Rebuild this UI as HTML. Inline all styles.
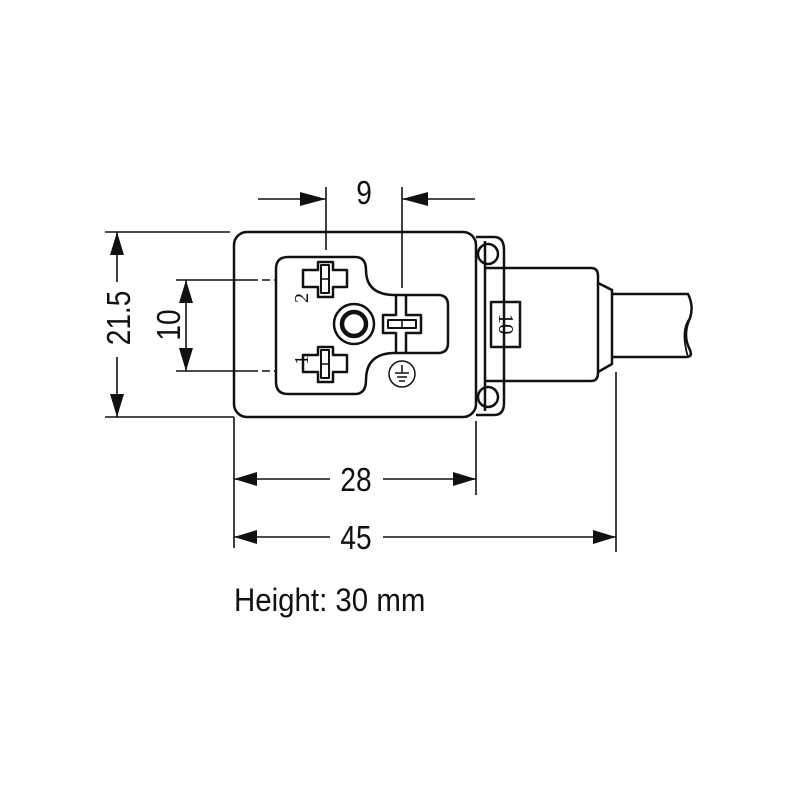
<!DOCTYPE html>
<html><head><style>body{margin:0;background:#fff}svg{display:block}</style></head><body>
<svg width="800" height="800" viewBox="0 0 800 800" xmlns="http://www.w3.org/2000/svg">
<g fill="none" stroke="#111" stroke-width="2.5" stroke-linejoin="round">
<rect x="234" y="232" width="242" height="185" rx="13"/>
<path d="M288 257 H355 Q366 257 366 270 Q366 295 395 295 H438 Q448 295 448 305 V343 Q448 353 438 353 H395 Q366 353 366 380 Q366 394 355 394 H288 Q276 394 276 382 V269 Q276 257 288 257 Z"/>
<g>
<path d="M318 262 H333 V270 H347 V287 H333 V297 H318 V287 H303 V270 H318 Z"/>
<rect x="321" y="265" width="8" height="28" stroke-width="2"/>
<line x1="321" y1="279" x2="329" y2="279" stroke-width="1.5"/>
</g>
<g transform="translate(0,85)">
<path d="M318 262 H333 V270 H347 V287 H333 V297 H318 V287 H303 V270 H318 Z"/>
<rect x="321" y="265" width="8" height="28" stroke-width="2"/>
<line x1="321" y1="279" x2="329" y2="279" stroke-width="1.5"/>
</g>
<circle cx="354" cy="324" r="20"/>
<circle cx="354" cy="324" r="12" stroke-width="4.5"/>
<path d="M396 295 V315 H383 V333 H396 V353 M406 295 V315 H421 V333 H406 V353"/>
<rect x="388" y="320" width="28" height="8" stroke-width="2"/>
<line x1="402" y1="320" x2="402" y2="328" stroke-width="1.5"/>
<circle cx="402" cy="374" r="13" stroke-width="1.5"/>
<path d="M402 365 V373 M395 373 H409 M397 377 H407 M399 381 H405" stroke-width="1.5"/>
<path d="M476 237 H494 Q504 237 504 250 V403 Q504 415 494 415 H476"/>
<line x1="485" y1="241" x2="485" y2="411"/>
<circle cx="488" cy="254" r="10"/>
<circle cx="488" cy="397" r="10"/>
<path d="M485 268 H591 Q598 268 598 276 V373 Q598 381 591 381 H485"/>
<path d="M598 283 L612 290 V364 L598 372"/>
<path d="M612 294 H688 Q694 306 690 318 Q682 335 690 350 Q693 357 686 357 H612"/>
<path d="M690 318 Q680 330 688 357" stroke-width="1.8"/>
<rect x="491" y="302" width="29" height="45"/>
</g>
<text transform="translate(499,324) rotate(90)" font-family="Liberation Serif, serif" font-size="21" text-anchor="middle" fill="#111">10</text>
<text transform="translate(308,303) rotate(-90)" font-family="Liberation Serif, serif" font-size="20" fill="#111">2</text>
<text transform="translate(308,365) rotate(-90)" font-family="Liberation Serif, serif" font-size="20" fill="#111">1</text>
<g stroke="#111" stroke-width="1.6" fill="none">
<line x1="326" y1="187" x2="326" y2="250"/>
<line x1="402" y1="187" x2="402" y2="288"/>
<line x1="258" y1="199" x2="326" y2="199"/>
<line x1="402" y1="199" x2="475" y2="199"/>
<line x1="105" y1="232" x2="230" y2="232"/>
<line x1="105" y1="417" x2="234" y2="417"/>
<line x1="117" y1="232" x2="117" y2="282"/>
<line x1="117" y1="357" x2="117" y2="417"/>
<line x1="176" y1="280" x2="250" y2="280"/>
<line x1="176" y1="371" x2="250" y2="371"/>
<line x1="250" y1="280" x2="276" y2="280" stroke-dasharray="8 4"/>
<line x1="250" y1="371" x2="276" y2="371" stroke-dasharray="8 4"/>
<line x1="186" y1="280" x2="186" y2="371"/>
<line x1="234" y1="417" x2="234" y2="548"/>
<line x1="476" y1="421" x2="476" y2="495"/>
<line x1="616" y1="372" x2="616" y2="552"/>
<line x1="234" y1="479" x2="330" y2="479"/>
<line x1="383" y1="479" x2="476" y2="479"/>
<line x1="234" y1="537" x2="330" y2="537"/>
<line x1="383" y1="537" x2="616" y2="537"/>
</g>
<g fill="#111">
<polygon points="326,199 300,192 300,206"/>
<polygon points="402,199 428,192 428,206"/>
<polygon points="117,232 110,255 124,255"/>
<polygon points="117,417 110,394 124,394"/>
<polygon points="186,280 179,303 193,303"/>
<polygon points="186,371 179,348 193,348"/>
<polygon points="234,479 257,472 257,486"/>
<polygon points="476,479 453,472 453,486"/>
<polygon points="234,537 257,530 257,544"/>
<polygon points="616,537 593,530 593,544"/>
</g>
<g font-family="Liberation Sans, sans-serif" font-size="33" fill="#111">
<text transform="translate(364,204) scale(0.85,1)" text-anchor="middle">9</text>
<text transform="translate(130,318) rotate(-90) scale(0.85,1)" text-anchor="middle">21.5</text>
<text transform="translate(180,325) rotate(-90) scale(0.85,1)" text-anchor="middle">10</text>
<text transform="translate(356,491) scale(0.85,1)" text-anchor="middle">28</text>
<text transform="translate(356,549) scale(0.85,1)" text-anchor="middle">45</text>
<text transform="translate(234,611) scale(0.92,1)" font-size="32">Height: 30 mm</text>
</g>
</svg>
</body></html>
